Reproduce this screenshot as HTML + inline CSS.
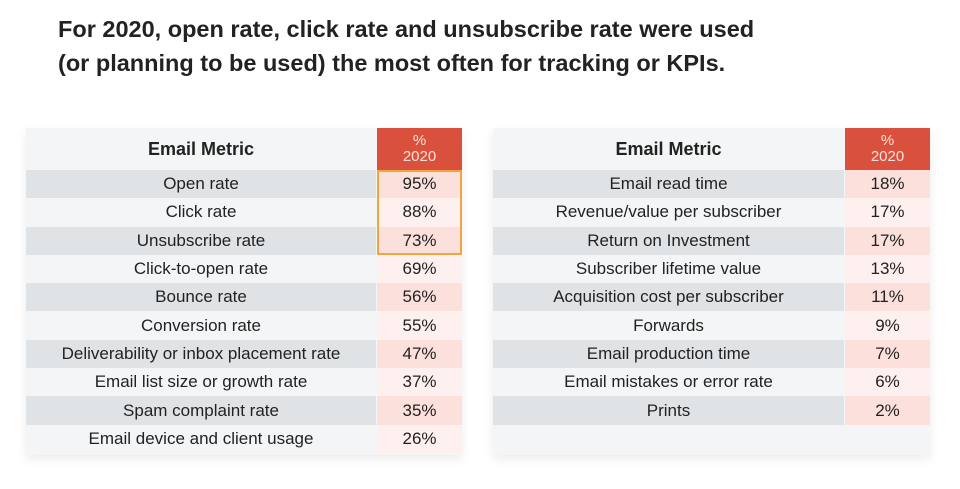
<!DOCTYPE html>
<html><head><meta charset="utf-8"><style>
body{margin:0;width:960px;height:489px;background:#fff;font-family:"Liberation Sans",sans-serif;position:relative;overflow:hidden}
h1{position:absolute;left:58px;top:12px;margin:0;font-size:23.5px;line-height:34px;font-weight:bold;color:#222;width:900px}
.tbl{position:absolute;top:128px;background:#f4f5f6;box-shadow:0 4px 10px rgba(0,0,0,0.08)}
.row{position:absolute;left:0;height:28.3px;font-size:17px;color:#222}
.m,.v{position:absolute;top:0;height:100%;display:flex;align-items:center;justify-content:center}
.hdr .m{font-weight:bold;font-size:18px}
.hdr .v{background:#d9513c;color:#fbe3dd;font-size:15px;line-height:16px;flex-direction:column}
.hl{position:absolute;border:2px solid #efa63c;box-sizing:border-box}
</style></head><body>
<h1>For 2020, open rate, click rate and unsubscribe rate were used<br>(or planning to be used) the most often for tracking or KPIs.</h1>
<div class="tbl" id="t1" style="left:26px;width:436px;height:327px"></div>
<div class="tbl" id="t2" style="left:493px;width:437px;height:327px"></div>
<script>
const leftMetrics=["Open rate","Click rate","Unsubscribe rate","Click-to-open rate","Bounce rate","Conversion rate","Deliverability or inbox placement rate","Email list size or growth rate","Spam complaint rate","Email device and client usage"];
const leftValues=[95,88,73,69,56,55,47,37,35,26];
const rightMetrics=["Email read time","Revenue/value per subscriber","Return on Investment","Subscriber lifetime value","Acquisition cost per subscriber","Forwards","Email production time","Email mistakes or error rate","Prints"];
const rightValues=[18,17,17,13,11,9,7,6,2];
const RH=28.3,HH=42;
function build(id,metrics,values,mw,vw,hl){
  const t=document.getElementById(id);
  const h=document.createElement('div');h.className='row hdr';h.style.top='0';h.style.height=HH+'px';h.style.width=(mw+vw+1)+'px';
  
  
  h.innerHTML='<div class="m" style="left:0;width:'+mw+'px">Email Metric</div><div class="v" style="left:'+(mw+1)+'px;width:'+vw+'px"><span>%</span><span>2020</span></div>';
  t.appendChild(h);
  metrics.forEach((m,i)=>{
    const r=document.createElement('div');r.className='row';
    
    
    r.style.top=(HH+i*RH)+'px';r.style.width=(mw+vw+1)+'px';
    const odd=i%2==0;
    r.innerHTML='<div class="m" style="left:0;width:'+mw+'px;background:'+(odd?'#dfe3e6':'#f4f5f6')+'">'+m+'</div><div class="v" style="left:'+(mw+1)+'px;width:'+vw+'px;background:'+(odd?'#fbe0dc':'#fdf0ee')+'">'+values[i]+'%</div>';
    t.appendChild(r);
  });
  if(hl){const b=document.createElement('div');b.className='hl';
    
    
    b.style.left=(mw+1)+'px';b.style.top=HH+'px';b.style.width=vw+'px';b.style.height=(3*RH)+'px';t.appendChild(b);}
}
build('t1',leftMetrics,leftValues,350,85,true);
build('t2',rightMetrics,rightValues,351,85,false);
</script>
</body></html>
